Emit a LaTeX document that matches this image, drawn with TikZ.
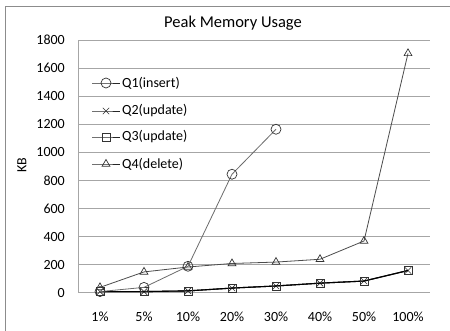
\documentclass[tikz,border=0pt]{standalone}
\usepackage{fontspec}
\setmainfont{Carlito}
\usetikzlibrary{plotmarks}
\definecolor{gridc}{HTML}{A6A6A6}
\definecolor{framec}{HTML}{8C8C8C}
\tikzset{
  gridline/.style={gridc, line width=1pt},
  lbl/.style={font=\fontsize{14}{16}\selectfont, inner sep=0pt},
  q1/.style={draw=gray!85!black, line width=0.8pt, mark=o, mark size=5pt, mark options={solid, draw=black!80, line width=0.7pt}},
  q2/.style={draw=black, line width=1.1pt, mark=x, mark size=4.5pt, mark options={draw=black!80, line width=0.6pt}},
  q3/.style={draw=black, line width=1.1pt, mark=square, mark size=4pt, mark options={draw=black!80, line width=0.7pt}},
  q4/.style={draw=gray!60!black, line width=0.8pt, mark=triangle, mark size=4.5pt, mark options={draw=black!80, line width=0.7pt}},
  legline/.style={line width=0.8pt, draw=black!85},
}
\begin{document}
\begin{tikzpicture}[x=1pt, y=1pt]
\useasboundingbox (0,0) rectangle (450,331);
\fill[white] (0,0) rectangle (450,331);
% outer frame (top and left)
\draw[framec, line width=1pt] (5,0) -- (5,324) -- (450,324);
% title
\node[font=\fontsize{16.5}{18}\selectfont, inner sep=0pt] (title) at (233,308) {Peak Memory Usage};
% y axis label
\node[lbl, rotate=90] (kb) at (22,166) {KB};
\begin{scope}[shift={(78pt,38pt)}, x=1pt, y=0.140556pt]
  \foreach \v in {0,200,...,1800} {
    \draw[gridline] (0,\v) -- (352,\v);
    \node[lbl, anchor=east] (y\v) at (-13,\v) {\v};
  }
  \draw[gridline] (0,0) -- (0,1800);
\end{scope}
\begin{scope}[shift={(100pt,38pt)}, x=44pt, y=0.140556pt]
  \foreach \t [count=\i from 0] in {1\%,5\%,10\%,20\%,30\%,40\%,50\%,100\%} {
    \node[lbl] (x\i) at (\i,-170) {\t};
  }
  \draw[q2] plot coordinates {(0,10) (1,10) (2,15) (3,35) (4,50) (5,70) (6,85) (7,160)};
  \draw[q3] plot coordinates {(0,10) (1,10) (2,15) (3,35) (4,50) (5,70) (6,85) (7,160)};
  \draw[q4] plot coordinates {(0,40) (1,150) (2,185) (3,210) (4,220) (5,240) (6,370) (7,1705)};
  \draw[q1] plot coordinates {(0,10) (1,40) (2,190) (3,845) (4,1165)};
\end{scope}
% legend
\foreach \s/\t/\yy [count=\k] in {q1/Q1(insert)/248, q2/Q2(update)/220, q3/Q3(update)/194, q4/Q4(delete)/167} {
  \draw[\s, legline, mark indices={2}] plot coordinates {(92,\yy) (106,\yy) (120,\yy)};
  \node[lbl, anchor=west] (leg\k) at (122,\yy) {\t};
}
\end{tikzpicture}
\end{document}
